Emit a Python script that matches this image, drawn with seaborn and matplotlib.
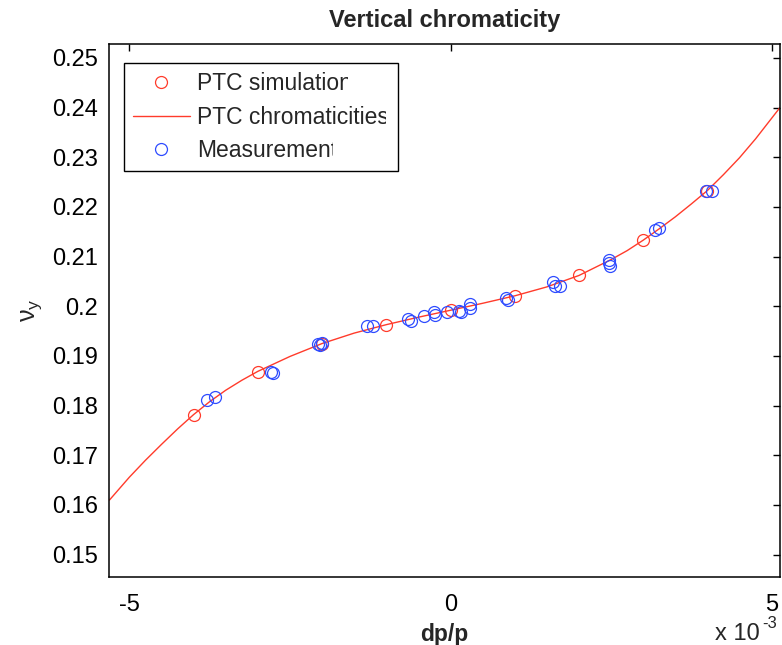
import numpy as np
import pandas as pd
import matplotlib
matplotlib.use("Agg")
import matplotlib.pyplot as plt
import seaborn as sns
from matplotlib.ticker import FixedLocator, FuncFormatter
from matplotlib.transforms import Bbox

# momentum offset dp/p in units of 1e-3, vertical tune Qy

# PTC tracking at integer momentum offsets
sim_dpp = [-4.0, -3.0, -2.0, -1.0, 0.0, 1.0, 2.0, 3.0, 4.0]
sim_qy = [0.1782, 0.1868, 0.1925, 0.1962, 0.1992, 0.2021, 0.2062, 0.2133, 0.2233]

# PTC chromaticity curve
curve_dpp = [-5.31, -5.0, -4.75, -4.5, -4.25, -4.0, -3.75, -3.5, -3.25, -3.0,
             -2.5, -2.0, -1.5, -1.0, -0.5, 0.0, 0.5, 1.0, 1.5, 2.0, 2.5, 2.75,
             3.0, 3.25, 3.5, 3.75, 4.0, 4.25, 4.5, 4.75, 5.13]
curve_qy = [0.1610, 0.1656, 0.1690, 0.1722, 0.1753, 0.1782, 0.1808, 0.1831,
            0.1851, 0.1869, 0.1899, 0.1925, 0.1946, 0.1963, 0.1978, 0.1992,
            0.2006, 0.2021, 0.2039, 0.2062, 0.2094, 0.2112, 0.2133, 0.2156,
            0.2180, 0.2206, 0.2233, 0.2265, 0.2299, 0.2337, 0.2400]

# measured tunes
meas_dpp = [-3.79, -3.66, -2.80, -2.77, -2.07, -2.03, -2.00, -1.30, -1.21, -0.66,
            -0.62, -0.42, -0.26, -0.24, -0.06, 0.14, 0.16, 0.30, 0.31, 0.87, 0.90,
            1.60, 1.63, 1.71, 2.47, 2.47, 2.48, 3.19, 3.24, 3.98, 4.07]
meas_qy = [0.1811, 0.1818, 0.1868, 0.1865, 0.1925, 0.1922, 0.1926, 0.1961, 0.1961,
           0.1974, 0.1971, 0.1980, 0.1988, 0.1982, 0.1989, 0.1991, 0.1988, 0.2005,
           0.1996, 0.2016, 0.2013, 0.2049, 0.2041, 0.2041, 0.2094, 0.2088, 0.2082,
           0.2154, 0.2157, 0.2232, 0.2232]

labels = ["PTC simulation", "PTC chromaticities", "Measurements"]
x_ticks = [-5, 0, 5]
y_ticks = [0.15, 0.16, 0.17, 0.18, 0.19, 0.20, 0.21, 0.22, 0.23, 0.24, 0.25]

RED = "#ff3b2b"
BLUE = "#2f4cff"

sns.set_theme(style="white")
plt.rcParams["font.family"] = ["Liberation Sans", "DejaVu Sans"]
plt.rcParams["mathtext.fontset"] = "custom"
plt.rcParams["mathtext.rm"] = "Liberation Sans"
plt.rcParams["mathtext.it"] = "Liberation Sans"

W, H = 782, 645
fig = plt.figure(figsize=(W / 100, H / 100), dpi=100)
ax = fig.add_axes([0.140, 0.1054, 0.8574, 0.8264])

curve = pd.DataFrame({"dpp": curve_dpp, "qy": curve_qy})
sim = pd.DataFrame({"dpp": sim_dpp, "qy": sim_qy})
meas = pd.DataFrame({"dpp": meas_dpp, "qy": meas_qy})

sns.lineplot(data=curve, x="dpp", y="qy", ax=ax, color=RED, lw=1.0,
             estimator=None, sort=False, zorder=2)
sns.lineplot(data=sim, x="dpp", y="qy", ax=ax, estimator=None, sort=False,
             linestyle="", marker="o", markersize=8.6, markerfacecolor="none",
             markeredgecolor=RED, markeredgewidth=0.9, zorder=3)
sns.lineplot(data=meas, x="dpp", y="qy", ax=ax, estimator=None, sort=False,
             linestyle="", marker="o", markersize=8.6, markerfacecolor="none",
             markeredgecolor=BLUE, markeredgewidth=0.9, zorder=4)

lines = ax.get_lines()
h_curve, h_sim, h_meas = lines[0], lines[1], lines[2]

ax.set_xlim(-5.31, 5.13)
ax.set_ylim(0.1455, 0.2528)
ax.xaxis.set_major_locator(FixedLocator(x_ticks))
ax.yaxis.set_major_locator(FixedLocator(y_ticks))
ax.xaxis.set_major_formatter(FuncFormatter(lambda v, p: f"{v:g}"))
ax.yaxis.set_major_formatter(FuncFormatter(lambda v, p: f"{v:g}"))

ax.tick_params(axis="both", which="major", direction="in", length=5, width=1.0,
               top=True, right=True, labelsize=17, colors="black")
ax.tick_params(axis="y", pad=8)
ax.tick_params(axis="x", pad=12)
for s in ax.spines.values():
    s.set_visible(True)
    s.set_color("black")
    s.set_linewidth(1.1)

ax.set_title("Vertical chromaticity", fontsize=17, fontweight="bold", pad=12)
ax.set_xlabel("dp/p", fontsize=16.5, fontweight="bold", labelpad=5)
ax.set_ylabel(r"$\nu_y$", fontsize=18, labelpad=6)

# axis multiplier written as "x 10" with a raised exponent
fig.text(760 / W, 1 - 634 / H, "x 10", ha="right", va="center", fontsize=17)
fig.text(762 / W, 1 - 623 / H, "-3", ha="left", va="center", fontsize=12)

leg = ax.legend(handles=[h_sim, h_curve, h_meas], labels=labels,
                loc="upper left", bbox_to_anchor=(0.021, 0.964),
                borderaxespad=0, handlelength=2.5, handletextpad=0.3,
                labelspacing=0.45, borderpad=0.4, fancybox=False,
                edgecolor="black", framealpha=1, fontsize=16.5)
leg.get_frame().set_linewidth(1.0)

# legend entries are cut short at the right, as in the exported figure
fig.canvas.draw()
for t, frac in zip(leg.get_texts(), [0.975, 0.985, 0.895]):
    bb = t.get_window_extent()
    t.set_clip_box(Bbox.from_extents(bb.x0 - 3, bb.y0 - 6, bb.x0 + frac * bb.width, bb.y1 + 6))
    t.set_clip_on(True)

fig.savefig("out.png", dpi=100)
